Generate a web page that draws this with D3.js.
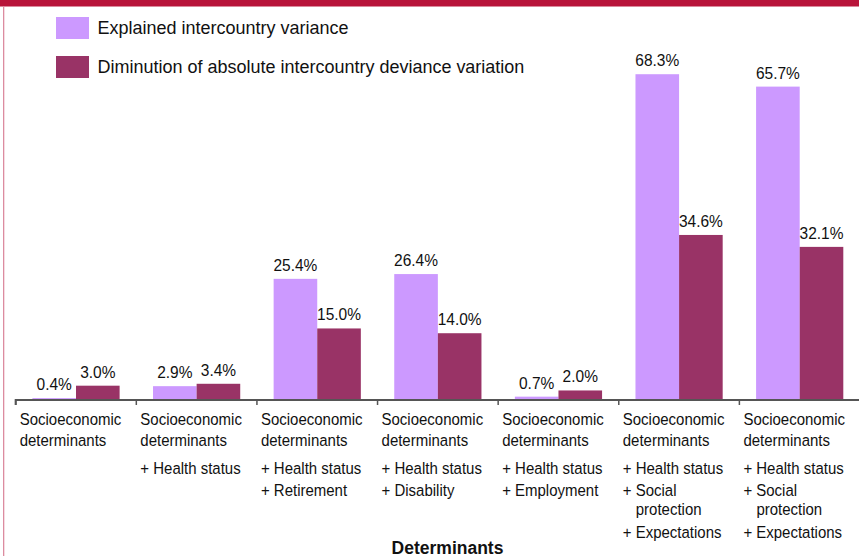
<!DOCTYPE html>
<html>
<head>
<meta charset="utf-8">
<script src="https://cdn.jsdelivr.net/npm/d3@7/dist/d3.min.js"></script>
<style>
  html, body { margin: 0; padding: 0; background: #fff; }
  svg { display: block; }
  text { font-family: "Liberation Sans", Arial, sans-serif; fill: #111; }
</style>
</head>
<body>
<svg id="chart" width="859" height="556"></svg>
<script>
// ---- data ----
const categories = ["c1", "c2", "c3", "c4", "c5", "c6", "c7"];
const seriesNames = ["Explained intercountry variance", "Diminution of absolute intercountry deviance variation"];
const explained = [0.4, 2.9, 25.4, 26.4, 0.7, 68.3, 65.7];
const diminution = [3.0, 3.4, 15.0, 14.0, 2.0, 34.6, 32.1];
const baseLabel = ["Socioeconomic", "determinants"];
const addedDeterminants = [
  [],
  [["+ Health status"]],
  [["+ Health status"], ["+ Retirement"]],
  [["+ Health status"], ["+ Disability"]],
  [["+ Health status"], ["+ Employment"]],
  [["+ Health status"], ["+ Social", "protection"], ["+ Expectations"]],
  [["+ Health status"], ["+ Social", "protection"], ["+ Expectations"]]
];
const axisTitle = "Determinants";
const colors = ["#cc99ff", "#993366"];

// ---- layout ----
const W = 859, H = 556;
const baseY = 400;
const svg = d3.select("#chart");

// helper: text with a slight vertical stretch (reference glyphs are taller)
function stext(sel, tx, ty, sy, str) {
  return sel.append("text").attr("transform", `translate(${tx},${ty}) scale(1,${sy})`).text(str);
}

// frame decorations
svg.append("rect").attr("x", 0).attr("y", 0).attr("width", W).attr("height", 6.5).attr("fill", "#b8143a");
svg.append("rect").attr("x", 3).attr("y", 6.5).attr("width", 1.3).attr("height", H).attr("fill", "#dc8ca0");

const x = d3.scaleBand().domain(categories).range([15.7, 860]).paddingInner(0).paddingOuter(0);
const xs = d3.scaleBand().domain([0, 1]).range([0, x.bandwidth()]).paddingInner(0).paddingOuter(0.383);
const y = d3.scaleLinear().domain([0, 70]).range([baseY, baseY - 70 * 4.77]);

const rows = categories.map((c, i) => ({ c, vals: [explained[i], diminution[i]] }));

const g = svg.append("g");
const grp = g.selectAll("g.cat").data(rows).join("g").attr("class", "cat")
  .attr("transform", d => `translate(${x(d.c)},0)`);

grp.selectAll("rect").data(d => d.vals.map((v, k) => ({ v, k }))).join("rect")
  .attr("x", d => xs(d.k))
  .attr("width", xs.bandwidth())
  .attr("y", d => y(d.v))
  .attr("height", d => baseY - y(d.v))
  .attr("fill", d => colors[d.k]);

grp.selectAll("text.val").data(d => d.vals.map((v, k) => ({ v, k }))).join("text")
  .attr("class", "val")
  .attr("transform", d => `translate(${xs(d.k) + xs.bandwidth() / 2},${y(d.v) - 8})scale(1,1.1)`)
  .attr("text-anchor", "middle")
  .attr("font-size", 15.5)
  .text(d => d.v.toFixed(1) + "%");

// axis
const axis = d3.axisBottom(x).tickSize(5).tickFormat("");
const axG = svg.append("g").attr("transform", `translate(0,${baseY})`).call(axis);
axG.select(".domain").attr("stroke", "#555").attr("stroke-width", 2)
  .attr("d", `M15.7,5V0H860`);
axG.selectAll(".tick").remove();
const boundaries = categories.map(c => x(c)).concat([x.range()[1]]);
axG.selectAll("line.b").data(boundaries).join("line").attr("class", "b")
  .attr("x1", d => d).attr("x2", d => d).attr("y1", 0).attr("y2", 5)
  .attr("stroke", "#555").attr("stroke-width", 1.5);

// category labels
const labG = svg.append("g");
rows.forEach((d, i) => {
  const lx = x(d.c) + 4;
  const lg = labG.append("g").attr("font-size", 15);
  baseLabel.forEach((t, j) => stext(lg, lx, 424.5 + j * 21, 1.12, t));
  let yy = 473.5;
  addedDeterminants[i].forEach(item => {
    item.forEach((t, j) => {
      stext(lg, lx + (j > 0 ? 13 : 0), yy, 1.12, t);
      if (j < item.length - 1) yy += 19;
    });
    yy += 22.5;
  });
});

// axis title
svg.append("text").attr("x", 447.5).attr("y", 553.5).attr("text-anchor", "middle")
  .attr("font-size", 17.5).attr("font-weight", "bold").text(axisTitle);

// legend
const leg = svg.append("g").attr("font-size", 18);
seriesNames.forEach((s, k) => {
  leg.append("rect").attr("x", 56).attr("y", 17 + k * 39).attr("width", 33).attr("height", 22).attr("fill", colors[k]);
  stext(leg, 97.5, 33.5 + k * 39.3, 1.06, s);
});
</script>
</body>
</html>
